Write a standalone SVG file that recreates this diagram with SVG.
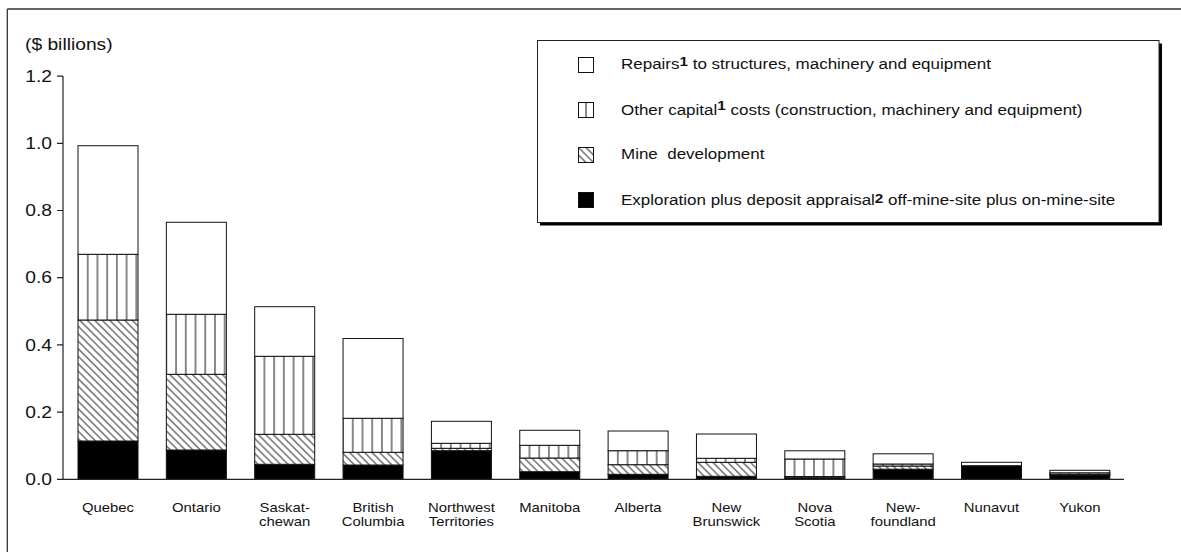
<svg xmlns="http://www.w3.org/2000/svg" width="1181" height="552" viewBox="0 0 1181 552">
<style>
.t{font-family:"Liberation Sans",Arial,Helvetica,sans-serif;fill:#111}
.ax{font-size:16.3px}
.lg{font-size:14.4px}
.cat{font-size:12.6px}
.sup{font-weight:bold;font-size:13px}
.seg{stroke:#111;stroke-width:1}
.rep{fill:#fff}
.oth{fill:url(#vl)}
.min{fill:url(#dg)}
.exp{fill:#000}
.axis{stroke:#222;stroke-width:1.2;fill:none}
.frame{stroke:#333;stroke-width:1.3;fill:none}
</style>
<defs>
<pattern id="vl" patternUnits="userSpaceOnUse" x="4.86" y="0" width="9.72" height="10">
<rect x="0" y="0" width="9.72" height="10" fill="#fff"/>
<line x1="4.86" y1="0" x2="4.86" y2="10" stroke="#111" stroke-width="1"/>
</pattern>
<pattern id="dg" patternUnits="userSpaceOnUse" width="5.3" height="10" patternTransform="rotate(-45)">
<rect x="0" y="0" width="5.3" height="10" fill="#fff"/>
<line x1="2.65" y1="0" x2="2.65" y2="10" stroke="#111" stroke-width="0.9"/>
</pattern>
</defs>
<rect x="0" y="0" width="1181" height="552" fill="#fff"/>
<g id="frame">
<line class="frame" x1="7.3" y1="9" x2="1181" y2="9"/>
<line class="frame" x1="7.3" y1="9" x2="7.3" y2="552"/>
</g>
<g id="y-axis">
<g transform="translate(25,50) scale(1.18 1)"><text class="t ax">($ billions)</text></g>
<line class="axis" x1="63" y1="76" x2="63" y2="479.3"/>
<path class="axis" d="M57 479.3H63M57 412.1H63M57 344.9H63M57 277.7H63M57 210.5H63M57 143.3H63M57 76.1H63"/>
<g transform="translate(52,485) scale(1.18 1)"><text class="t ax" text-anchor="end">0.0</text></g>
<g transform="translate(52,417.8) scale(1.18 1)"><text class="t ax" text-anchor="end">0.2</text></g>
<g transform="translate(52,350.6) scale(1.18 1)"><text class="t ax" text-anchor="end">0.4</text></g>
<g transform="translate(52,283.4) scale(1.18 1)"><text class="t ax" text-anchor="end">0.6</text></g>
<g transform="translate(52,216.2) scale(1.18 1)"><text class="t ax" text-anchor="end">0.8</text></g>
<g transform="translate(52,149) scale(1.18 1)"><text class="t ax" text-anchor="end">1.0</text></g>
<g transform="translate(52,81.8) scale(1.18 1)"><text class="t ax" text-anchor="end">1.2</text></g>
</g>
<g id="bars">
<g id="bar-quebec" transform="translate(78,0)">
<rect class="seg exp" x="0" y="441" width="60" height="38.3"/>
<rect class="seg min" x="0" y="320" width="60" height="121"/>
<rect class="seg oth" x="0" y="254.3" width="60" height="65.7"/>
<rect class="seg rep" x="0" y="145.7" width="60" height="108.6"/>
</g>
<g id="bar-ontario" transform="translate(166.35,0)">
<rect class="seg exp" x="0" y="450" width="60" height="29.3"/>
<rect class="seg min" x="0" y="374.3" width="60" height="75.7"/>
<rect class="seg oth" x="0" y="314.3" width="60" height="60"/>
<rect class="seg rep" x="0" y="222.3" width="60" height="92"/>
</g>
<g id="bar-saskatchewan" transform="translate(254.7,0)">
<rect class="seg exp" x="0" y="464.3" width="60" height="15"/>
<rect class="seg min" x="0" y="434.3" width="60" height="30"/>
<rect class="seg oth" x="0" y="356.3" width="60" height="78"/>
<rect class="seg rep" x="0" y="306.7" width="60" height="49.6"/>
</g>
<g id="bar-british-columbia" transform="translate(343.05,0)">
<rect class="seg exp" x="0" y="465" width="60" height="14.3"/>
<rect class="seg min" x="0" y="452.3" width="60" height="12.7"/>
<rect class="seg oth" x="0" y="418.3" width="60" height="34"/>
<rect class="seg rep" x="0" y="338.5" width="60" height="79.8"/>
</g>
<g id="bar-northwest-territories" transform="translate(431.4,0)">
<rect class="seg exp" x="0" y="450.7" width="60" height="28.6"/>
<rect class="seg min" x="0" y="448.3" width="60" height="2.4"/>
<rect class="seg oth" x="0" y="443.3" width="60" height="5"/>
<rect class="seg rep" x="0" y="421.3" width="60" height="22"/>
</g>
<g id="bar-manitoba" transform="translate(519.75,0)">
<rect class="seg exp" x="0" y="471.7" width="60" height="7.6"/>
<rect class="seg min" x="0" y="458" width="60" height="13.7"/>
<rect class="seg oth" x="0" y="445.3" width="60" height="12.7"/>
<rect class="seg rep" x="0" y="430.3" width="60" height="15"/>
</g>
<g id="bar-alberta" transform="translate(608.1,0)">
<rect class="seg exp" x="0" y="474.3" width="60" height="5"/>
<rect class="seg min" x="0" y="464.7" width="60" height="9.6"/>
<rect class="seg oth" x="0" y="450.7" width="60" height="14"/>
<rect class="seg rep" x="0" y="431" width="60" height="19.7"/>
</g>
<g id="bar-new-brunswick" transform="translate(696.45,0)">
<rect class="seg exp" x="0" y="476.3" width="60" height="3"/>
<rect class="seg min" x="0" y="462.3" width="60" height="14"/>
<rect class="seg oth" x="0" y="458.3" width="60" height="4"/>
<rect class="seg rep" x="0" y="434" width="60" height="24.3"/>
</g>
<g id="bar-nova-scotia" transform="translate(784.8,0)">
<rect class="seg exp" x="0" y="477.7" width="60" height="1.6"/>
<rect class="seg min" x="0" y="476.5" width="60" height="1.2"/>
<rect class="seg oth" x="0" y="459" width="60" height="17.5"/>
<rect class="seg rep" x="0" y="450.8" width="60" height="8.2"/>
</g>
<g id="bar-newfoundland" transform="translate(873.15,0)">
<rect class="seg exp" x="0" y="469.2" width="60" height="10.1"/>
<rect class="seg min" x="0" y="466" width="60" height="3.2"/>
<rect class="seg oth" x="0" y="464" width="60" height="2"/>
<rect class="seg rep" x="0" y="453.8" width="60" height="10.2"/>
</g>
<g id="bar-nunavut" transform="translate(961.5,0)">
<rect class="seg exp" x="0" y="465.7" width="60" height="13.6"/>
<rect class="seg rep" x="0" y="462.3" width="60" height="3.4"/>
</g>
<g id="bar-yukon" transform="translate(1049.85,0)">
<rect class="seg exp" x="0" y="475" width="60" height="4.3"/>
<rect class="seg min" x="0" y="474.3" width="60" height="0.7"/>
<rect class="seg oth" x="0" y="472.8" width="60" height="1.5"/>
<rect class="seg rep" x="0" y="470.3" width="60" height="2.5"/>
</g>
</g>
<g id="x-axis">
<line class="axis" x1="63" y1="479.3" x2="1124" y2="479.3"/>
<g transform="translate(108,511.7) scale(1.18 1)"><text class="t cat" text-anchor="middle">Quebec</text></g>
<g transform="translate(196.35,511.7) scale(1.18 1)"><text class="t cat" text-anchor="middle">Ontario</text></g>
<g transform="translate(284.7,511.7) scale(1.18 1)"><text class="t cat" text-anchor="middle"><tspan x="0">Saskat-</tspan><tspan x="0" dy="14.3">chewan</tspan></text></g>
<g transform="translate(373.05,511.7) scale(1.18 1)"><text class="t cat" text-anchor="middle"><tspan x="0">British</tspan><tspan x="0" dy="14.3">Columbia</tspan></text></g>
<g transform="translate(461.4,511.7) scale(1.18 1)"><text class="t cat" text-anchor="middle"><tspan x="0">Northwest</tspan><tspan x="0" dy="14.3">Territories</tspan></text></g>
<g transform="translate(549.75,511.7) scale(1.18 1)"><text class="t cat" text-anchor="middle">Manitoba</text></g>
<g transform="translate(638.1,511.7) scale(1.18 1)"><text class="t cat" text-anchor="middle">Alberta</text></g>
<g transform="translate(726.45,511.7) scale(1.18 1)"><text class="t cat" text-anchor="middle"><tspan x="0">New</tspan><tspan x="0" dy="14.3">Brunswick</tspan></text></g>
<g transform="translate(814.8,511.7) scale(1.18 1)"><text class="t cat" text-anchor="middle"><tspan x="0">Nova</tspan><tspan x="0" dy="14.3">Scotia</tspan></text></g>
<g transform="translate(903.15,511.7) scale(1.18 1)"><text class="t cat" text-anchor="middle"><tspan x="0">New-</tspan><tspan x="0" dy="14.3">foundland</tspan></text></g>
<g transform="translate(991.5,511.7) scale(1.18 1)"><text class="t cat" text-anchor="middle">Nunavut</text></g>
<g transform="translate(1079.85,511.7) scale(1.18 1)"><text class="t cat" text-anchor="middle">Yukon</text></g>
</g>
<g id="legend">
<rect x="540" y="43.5" width="622" height="182" fill="#000"/>
<rect x="537.5" y="40.5" width="621.5" height="182" fill="#fff" stroke="#222" stroke-width="1"/>
<g id="legend-repairs">
<rect class="seg rep" x="578.5" y="57.5" width="15" height="15"/>
<g transform="translate(621,68.5) scale(1.18 1)"><text class="t lg">Repairs<tspan class="sup" dy="-3">1</tspan><tspan dy="3"> to structures, machinery and equipment</tspan></text></g>
</g>
<g id="legend-other">
<rect class="seg rep" x="578.5" y="102.5" width="15" height="15"/>
<line x1="586" y1="102.5" x2="586" y2="117.5" stroke="#111" stroke-width="1"/>
<g transform="translate(621,114.5) scale(1.18 1)"><text class="t lg">Other capital<tspan class="sup" dy="-5">1</tspan><tspan dy="5"> costs (construction, machinery and equipment)</tspan></text></g>
</g>
<g id="legend-mine">
<rect class="seg min" x="578.5" y="147.5" width="15" height="15"/>
<g transform="translate(621,159) scale(1.18 1)"><text class="t lg" xml:space="preserve">Mine  development</text></g>
</g>
<g id="legend-exploration">
<rect class="seg exp" x="578.5" y="192.5" width="15" height="15"/>
<g transform="translate(621,204.5) scale(1.18 1)"><text class="t lg">Exploration plus deposit appraisal<tspan class="sup" dy="-2">2</tspan><tspan dy="2"> off-mine-site plus on-mine-site</tspan></text></g>
</g>
</g>
</svg>
